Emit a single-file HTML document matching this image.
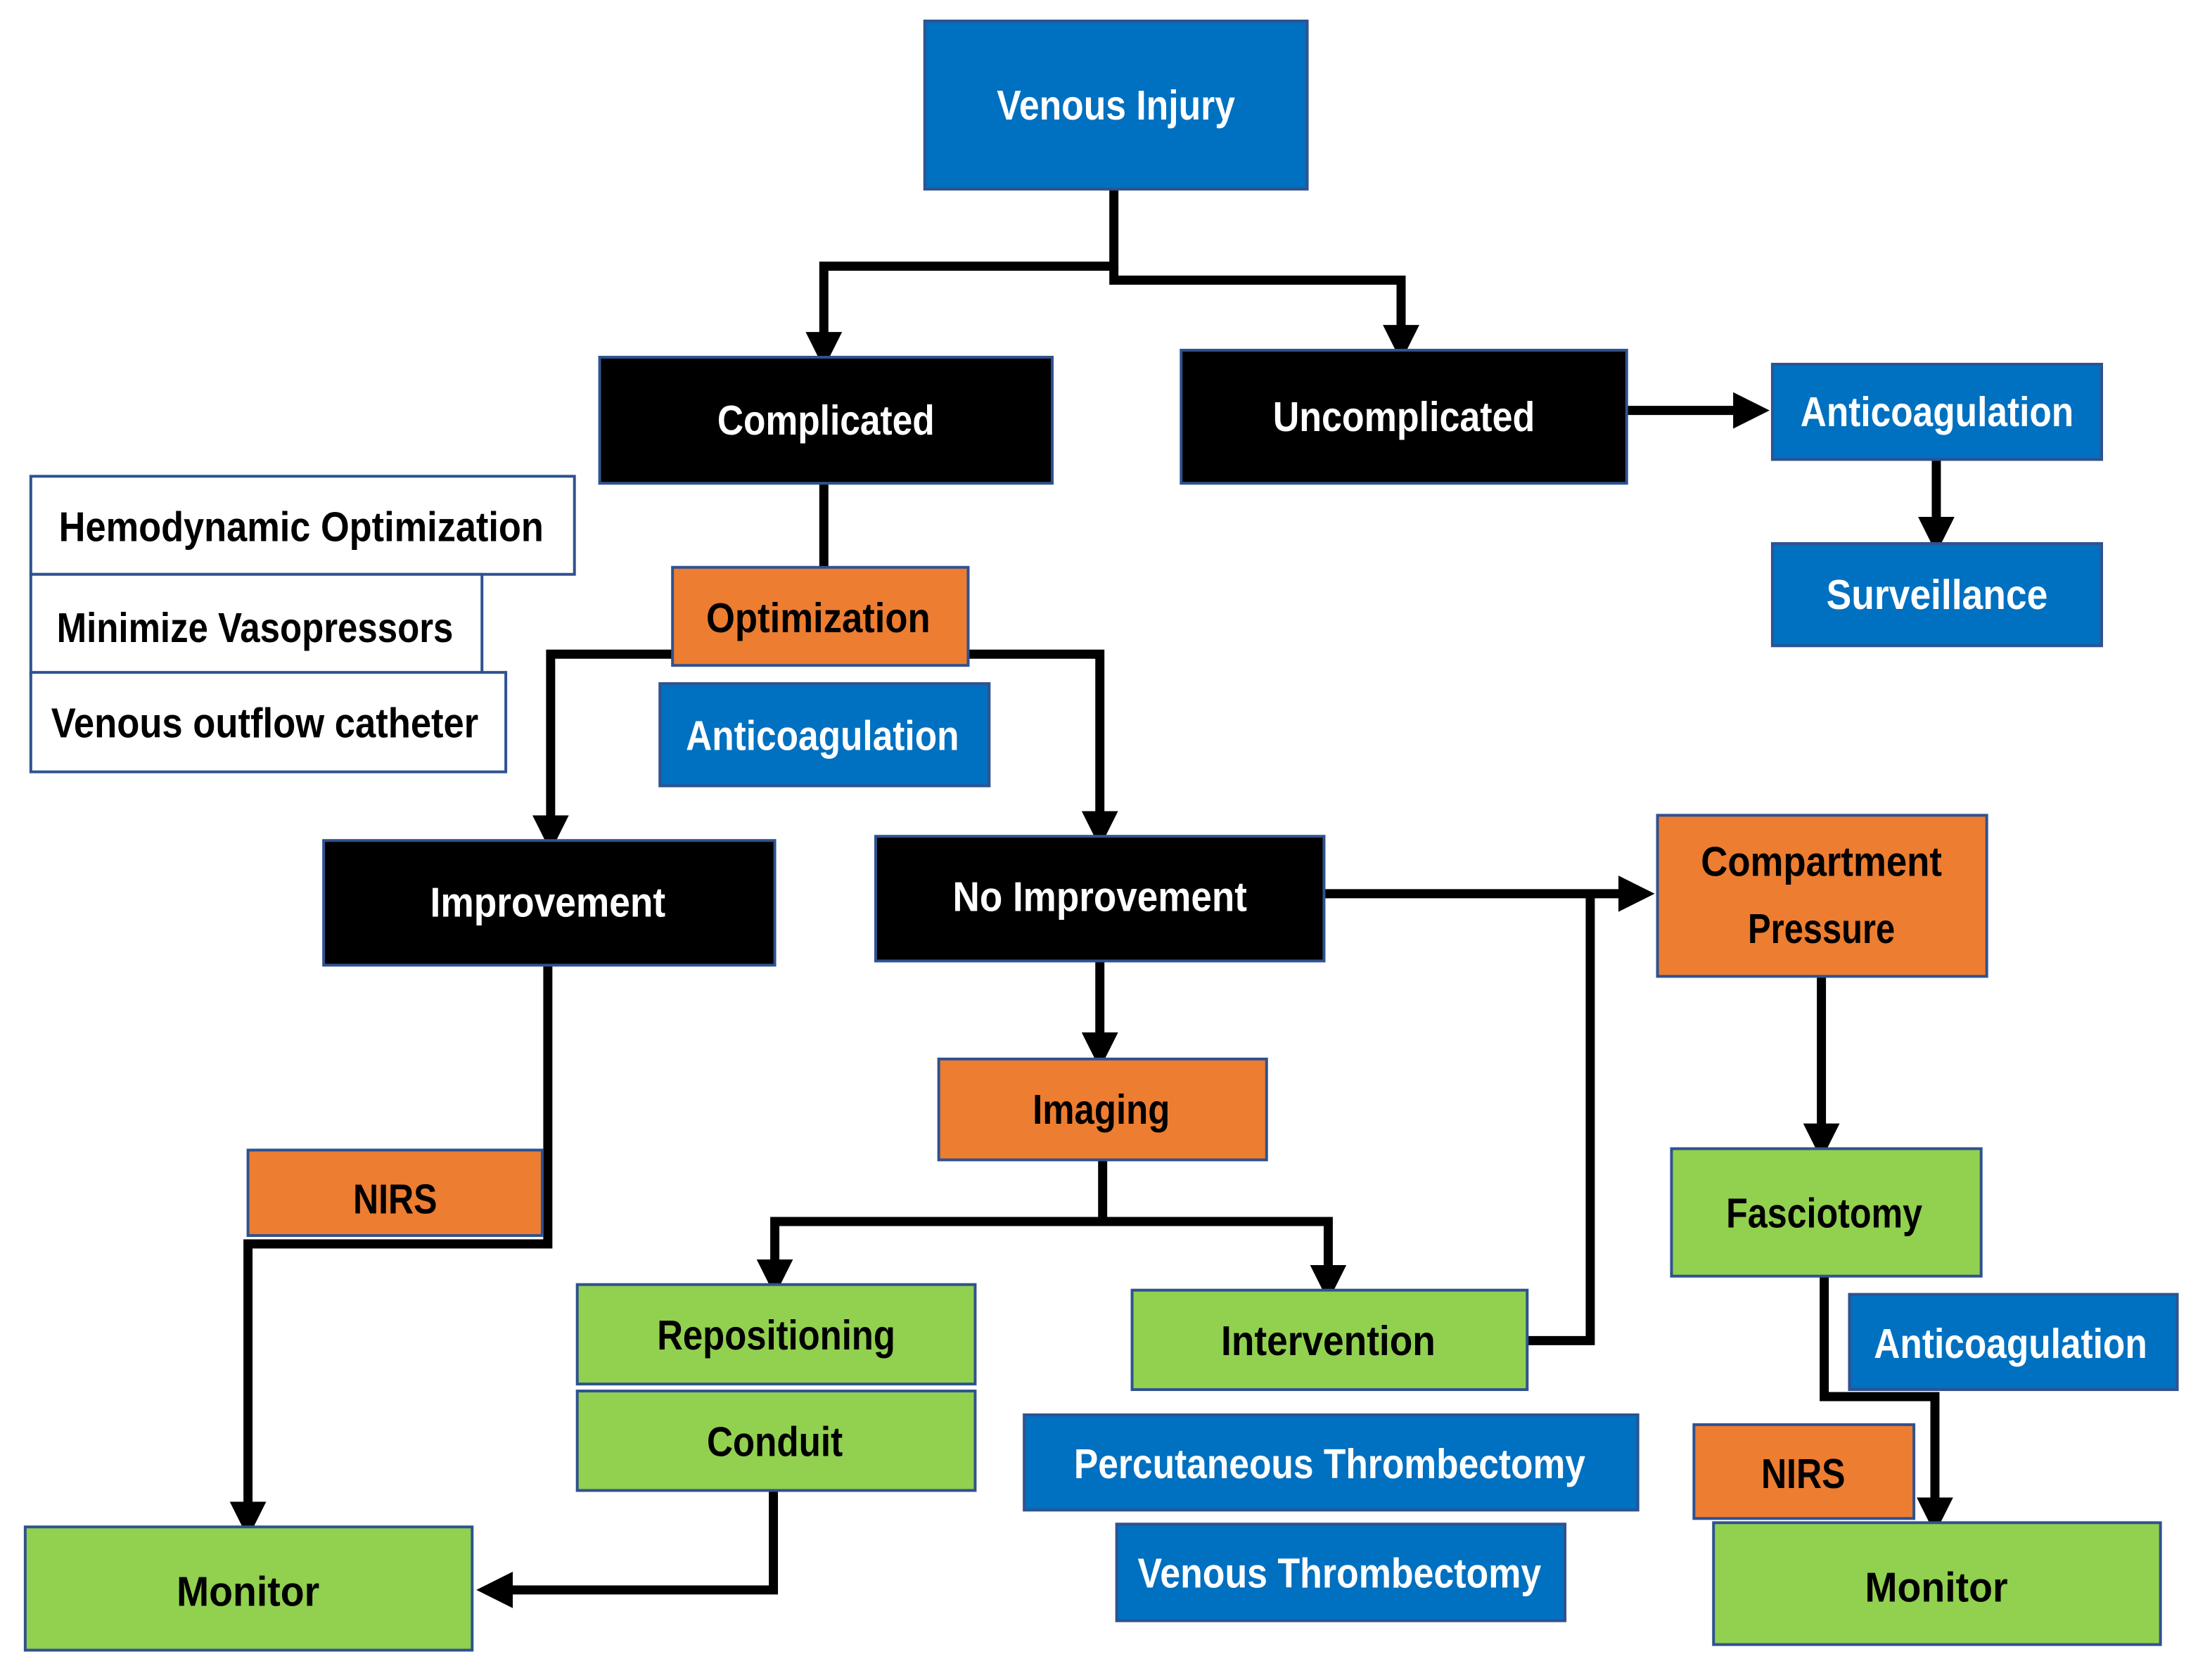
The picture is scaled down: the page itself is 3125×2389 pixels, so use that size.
<!DOCTYPE html>
<html><head><meta charset="utf-8"><style>
html,body{margin:0;padding:0;background:#fff;}
svg{display:block;}
text{font-family:"Liberation Sans Narrow","Liberation Sans",sans-serif;font-weight:bold;font-size:60px;text-anchor:middle;dominant-baseline:central;}
.w{fill:#fff}.k{fill:#000}
</style></head><body>
<svg width="3125" height="2389" viewBox="0 0 3125 2389" xmlns="http://www.w3.org/2000/svg">
<defs><marker id="a" markerWidth="4" markerHeight="4" refX="2" refY="2" orient="auto" markerUnits="strokeWidth"><path d="M0,0 L4,2 L0,4 z" fill="#000"/></marker></defs>
<g transform="scale(0.996)">
<g stroke="#000" stroke-width="13" fill="none" stroke-linejoin="miter">
<path d="M1590,270 V380 H1176 V500" marker-end="url(#a)"/>
<path d="M1590,380 V400 H2000 V490" marker-end="url(#a)"/>
<path d="M1176,690 V810"/>
<path d="M960,934 H786 V1190" marker-end="url(#a)"/>
<path d="M1382,934 H1570 V1184" marker-end="url(#a)"/>
<path d="M2322,586 H2500" marker-end="url(#a)"/>
<path d="M2764,656 V764" marker-end="url(#a)"/>
<path d="M782,1378 V1776 H354 V2170" marker-end="url(#a)"/>
<path d="M1570,1372 V1500" marker-end="url(#a)"/>
<path d="M1890,1276 H2336" marker-end="url(#a)"/>
<path d="M2180,1914 H2270 V1280"/>
<path d="M1574,1656 V1744 H1106 V1824" marker-end="url(#a)"/>
<path d="M1574,1744 H1896 V1832" marker-end="url(#a)"/>
<path d="M2600,1394 V1630" marker-end="url(#a)"/>
<path d="M2604,1822 V1994 H2762 V2164" marker-end="url(#a)"/>
<path d="M1104,2128 V2270 H706" marker-end="url(#a)"/>
</g>
<g stroke="#2f528f" stroke-width="4">
<rect x="1320" y="30" width="546" height="240" fill="#0070c0"/>
<rect x="856" y="510" width="646" height="180" fill="#000"/>
<rect x="1686" y="500" width="636" height="190" fill="#000"/>
<rect x="2530" y="520" width="470" height="136" fill="#0070c0"/>
<rect x="2530" y="776" width="470" height="146" fill="#0070c0"/>
<rect x="44" y="680" width="776" height="140" fill="#fff"/>
<rect x="44" y="820" width="644" height="144" fill="#fff"/>
<rect x="44" y="960" width="678" height="142" fill="#fff"/>
<rect x="960" y="810" width="422" height="140" fill="#ed7d31"/>
<rect x="942" y="976" width="470" height="146" fill="#0070c0"/>
<rect x="462" y="1200" width="644" height="178" fill="#000"/>
<rect x="1250" y="1194" width="640" height="178" fill="#000"/>
<rect x="2366" y="1164" width="470" height="230" fill="#ed7d31"/>
<rect x="1340" y="1512" width="468" height="144" fill="#ed7d31"/>
<rect x="354" y="1642" width="420" height="122" fill="#ed7d31"/>
<rect x="2386" y="1640" width="442" height="182" fill="#92d050"/>
<rect x="824" y="1834" width="568" height="142" fill="#92d050"/>
<rect x="824" y="1986" width="568" height="142" fill="#92d050"/>
<rect x="1616" y="1842" width="564" height="142" fill="#92d050"/>
<rect x="2640" y="1848" width="468" height="136" fill="#0070c0"/>
<rect x="1462" y="2020" width="876" height="136" fill="#0070c0"/>
<rect x="1594" y="2176" width="640" height="138" fill="#0070c0"/>
<rect x="2418" y="2034" width="314" height="134" fill="#ed7d31"/>
<rect x="36" y="2180" width="638" height="176" fill="#92d050"/>
<rect x="2446" y="2174" width="638" height="174" fill="#92d050"/>
</g>
<g>
<text class="w" x="1593" y="150" textLength="340" lengthAdjust="spacingAndGlyphs">Venous Injury</text>
<text class="w" x="1179" y="600" textLength="310" lengthAdjust="spacingAndGlyphs">Complicated</text>
<text class="w" x="2004" y="595" textLength="374" lengthAdjust="spacingAndGlyphs">Uncomplicated</text>
<text class="w" x="2765" y="588" textLength="390" lengthAdjust="spacingAndGlyphs">Anticoagulation</text>
<text class="w" x="2765" y="849" textLength="316" lengthAdjust="spacingAndGlyphs">Surveillance</text>
<text class="k" x="430" y="752" textLength="692" lengthAdjust="spacingAndGlyphs">Hemodynamic Optimization</text>
<text class="k" x="364" y="896" textLength="566" lengthAdjust="spacingAndGlyphs">Minimize Vasopressors</text>
<text class="k" x="378" y="1032" textLength="610" lengthAdjust="spacingAndGlyphs">Venous outflow catheter</text>
<text class="k" x="1168" y="882" textLength="320" lengthAdjust="spacingAndGlyphs">Optimization</text>
<text class="w" x="1174" y="1050" textLength="390" lengthAdjust="spacingAndGlyphs">Anticoagulation</text>
<text class="w" x="782" y="1288" textLength="336" lengthAdjust="spacingAndGlyphs">Improvement</text>
<text class="w" x="1570" y="1280" textLength="420" lengthAdjust="spacingAndGlyphs">No Improvement</text>
<text class="k" x="2600" y="1230" textLength="344" lengthAdjust="spacingAndGlyphs">Compartment</text>
<text class="k" x="2600" y="1326" textLength="210" lengthAdjust="spacingAndGlyphs">Pressure</text>
<text class="k" x="1572" y="1584" textLength="196" lengthAdjust="spacingAndGlyphs">Imaging</text>
<text class="k" x="564" y="1712" textLength="120" lengthAdjust="spacingAndGlyphs">NIRS</text>
<text class="k" x="2604" y="1732" textLength="280" lengthAdjust="spacingAndGlyphs">Fasciotomy</text>
<text class="k" x="1108" y="1906" textLength="340" lengthAdjust="spacingAndGlyphs">Repositioning</text>
<text class="k" x="1106" y="2058" textLength="194" lengthAdjust="spacingAndGlyphs">Conduit</text>
<text class="k" x="1896" y="1914" textLength="306" lengthAdjust="spacingAndGlyphs">Intervention</text>
<text class="w" x="2870" y="1918" textLength="390" lengthAdjust="spacingAndGlyphs">Anticoagulation</text>
<text class="w" x="1898" y="2090" textLength="730" lengthAdjust="spacingAndGlyphs">Percutaneous Thrombectomy</text>
<text class="w" x="1912" y="2246" textLength="576" lengthAdjust="spacingAndGlyphs">Venous Thrombectomy</text>
<text class="k" x="2574" y="2104" textLength="120" lengthAdjust="spacingAndGlyphs">NIRS</text>
<text class="k" x="354" y="2272" textLength="204" lengthAdjust="spacingAndGlyphs">Monitor</text>
<text class="k" x="2764" y="2266" textLength="204" lengthAdjust="spacingAndGlyphs">Monitor</text>
</g>
</g>
</svg>
</body></html>
